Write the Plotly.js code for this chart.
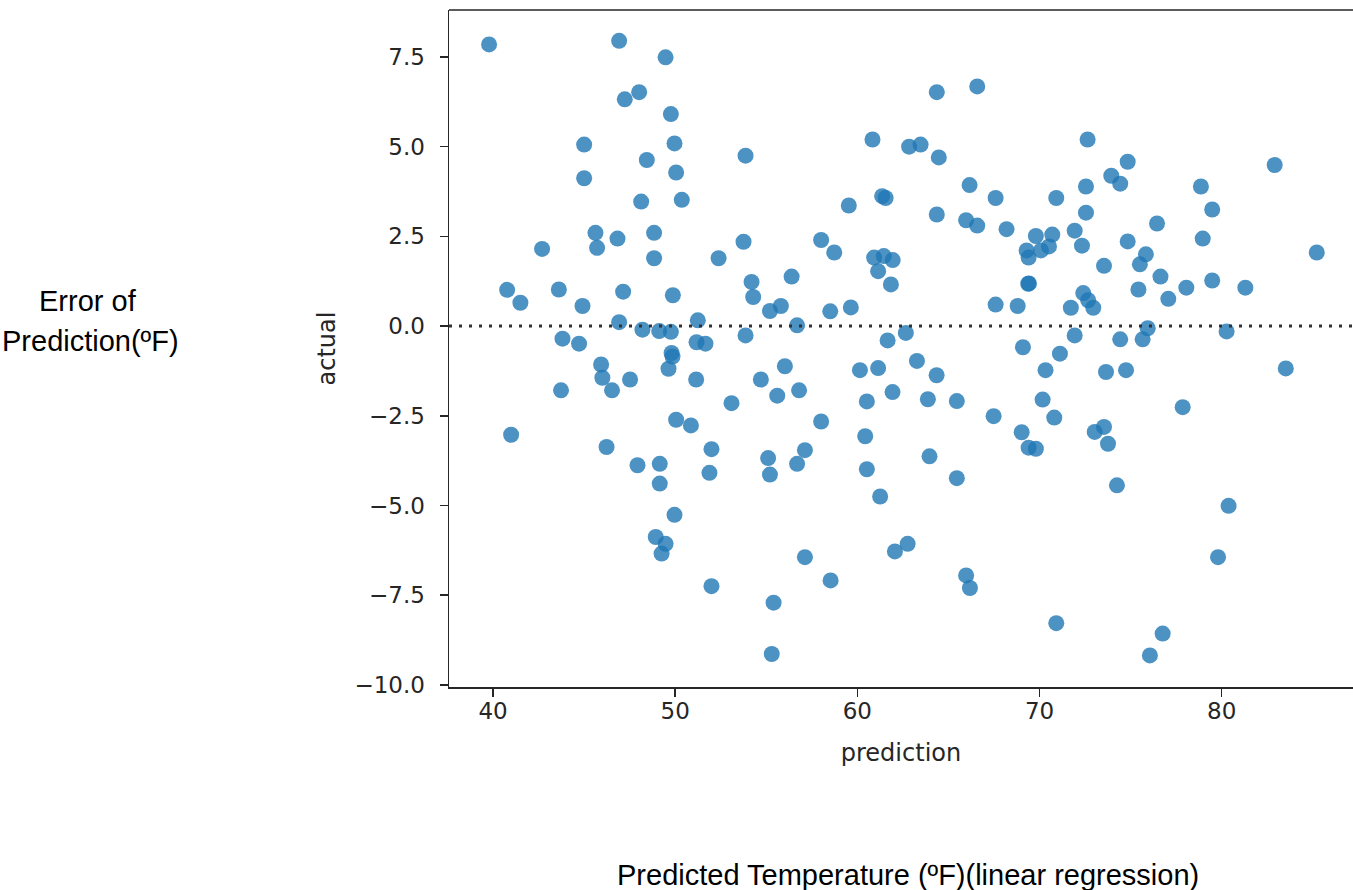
<!DOCTYPE html>
<html>
<head>
<meta charset="utf-8">
<script src="https://cdn.plot.ly/plotly-3.0.1.min.js"></script>
<style>html,body{margin:0;padding:0;background:#fff;}#chart{width:1353px;height:890px;}</style>
</head>
<body>
<div id="chart"></div>
<script>
const prediction = [39.78,46.92,49.47,48.02,47.23,49.76,45.00,49.96,48.44,45.00,50.05,53.86,48.13,50.36,45.62,46.83,48.84,42.69,45.71,48.84,52.38,53.75,40.77,41.50,43.61,44.91,47.14,49.87,54.19,54.28,46.92,51.24,43.81,44.72,48.20,49.12,49.76,51.17,51.66,53.86,49.80,49.85,49.63,45.93,46.00,46.53,43.73,47.52,51.15,53.09,50.05,50.86,40.99,46.23,51.99,47.93,49.15,49.15,51.88,49.96,48.93,49.47,49.25,51.99,64.36,66.58,60.83,62.84,63.47,64.47,66.16,67.59,61.36,61.55,59.53,64.36,65.97,66.58,68.19,58.01,58.73,60.92,61.45,61.94,61.14,61.84,56.39,55.20,55.80,58.51,59.64,56.69,67.59,68.80,69.38,69.42,69.29,69.40,69.80,70.08,70.70,70.52,62.66,61.66,69.09,72.64,82.91,74.84,73.94,74.43,72.55,70.92,72.55,78.86,79.48,78.96,76.45,71.93,72.33,74.84,75.84,75.51,73.54,85.22,76.64,75.43,77.07,78.06,79.48,81.30,72.40,72.67,72.95,71.72,75.94,80.27,71.93,74.43,75.66,71.12,70.33,73.65,74.75,83.52,70.17,70.81,77.86,73.03,73.54,73.76,69.40,69.80,74.25,80.38,79.80,70.92,76.76,76.06,69.02,56.02,54.70,55.60,56.80,58.01,55.10,55.20,57.12,56.69,60.14,61.14,63.27,64.35,60.52,61.93,63.87,65.46,67.48,60.43,63.96,60.52,65.46,61.25,57.12,58.53,62.06,62.76,65.97,66.18,55.40,55.30];
const residual = [7.85,7.95,7.49,6.52,6.32,5.91,5.06,5.09,4.63,4.12,4.28,4.75,3.47,3.52,2.60,2.44,2.60,2.15,2.18,1.89,1.89,2.35,1.01,0.65,1.02,0.56,0.96,0.86,1.23,0.81,0.11,0.16,-0.35,-0.49,-0.10,-0.14,-0.16,-0.45,-0.49,-0.26,-0.75,-0.85,-1.19,-1.07,-1.44,-1.79,-1.79,-1.49,-1.49,-2.15,-2.61,-2.77,-3.03,-3.37,-3.43,-3.88,-3.84,-4.39,-4.09,-5.26,-5.88,-6.07,-6.34,-7.25,6.52,6.68,5.20,5.00,5.06,4.70,3.93,3.57,3.62,3.57,3.36,3.11,2.95,2.80,2.70,2.40,2.05,1.91,1.95,1.84,1.53,1.16,1.38,0.42,0.56,0.41,0.52,0.02,0.60,0.56,1.18,1.19,2.11,1.91,2.51,2.11,2.55,2.22,-0.19,-0.40,-0.59,5.20,4.49,4.58,4.19,3.97,3.89,3.57,3.16,3.89,3.25,2.44,2.86,2.66,2.24,2.36,2.00,1.72,1.68,2.05,1.38,1.02,0.76,1.07,1.27,1.07,0.92,0.72,0.51,0.51,-0.06,-0.15,-0.26,-0.37,-0.37,-0.77,-1.23,-1.28,-1.23,-1.18,-2.05,-2.55,-2.26,-2.95,-2.81,-3.28,-3.39,-3.42,-4.44,-5.01,-6.44,-8.28,-8.57,-9.18,-2.96,-1.12,-1.49,-1.94,-1.79,-2.66,-3.68,-4.14,-3.46,-3.84,-1.23,-1.17,-0.97,-1.37,-2.10,-1.84,-2.04,-2.09,-2.51,-3.07,-3.63,-3.99,-4.24,-4.75,-6.44,-7.09,-6.28,-6.07,-6.95,-7.30,-7.71,-9.14];
const xTicks = [40,50,60,70,80];
const yTicks = [-10,-7.5,-5,-2.5,0,2.5,5,7.5];

const tickFont = {family:'DejaVu Sans', size:23, color:'#262626'};
const data = [{
  type:'scatter', mode:'markers', x:prediction, y:residual,
  marker:{color:'#1f77b4', size:16, opacity:0.8, line:{width:0}},
  hoverinfo:'x+y', showlegend:false
}];
const layout = {
  width:1353, height:890,
  margin:{l:449, r:0, t:10, b:203},
  paper_bgcolor:'#fff', plot_bgcolor:'#fff',
  xaxis:{range:[37.58,87.21], tickvals:xTicks, ticks:'outside', ticklen:8, tickwidth:1.5, tickcolor:'#262626',
    showline:true, linecolor:'#262626', linewidth:1.5, showgrid:false, zeroline:false,
    tickfont:tickFont, ticklabelstandoff:-5,
    title:{text:'prediction', font:{family:'DejaVu Sans', size:24, color:'#262626'}, standoff:21}},
  yaxis:{range:[-10.06,8.81], tickvals:yTicks, tickformat:'.1f', ticks:'outside', ticklen:8, tickwidth:1.5, tickcolor:'#262626',
    showline:true, linecolor:'#262626', linewidth:1.5, showgrid:false, zeroline:false,
    tickfont:tickFont, ticklabelstandoff:10,
    title:{text:'actual', font:{family:'DejaVu Sans', size:24, color:'#262626'}, standoff:12}},
  shapes:[
    {type:'line', xref:'paper', yref:'y', x0:0, x1:1, y0:0, y1:0, line:{color:'#333333', width:3, dash:'3px,7px'}},
    {type:'line', xref:'paper', yref:'paper', x0:0, x1:1, y0:1, y1:1, line:{color:'#262626', width:1.5}}
  ],
  annotations:[
    {xref:'paper', yref:'paper', x:(88-449)/904, y:(687-301)/677, text:'Error of', showarrow:false, xanchor:'center', yanchor:'middle', font:{family:'Liberation Sans, Arial', size:29, color:'#000'}},
    {xref:'paper', yref:'paper', x:(90-449)/904, y:(687-341)/677, text:'Prediction(ºF)', showarrow:false, xanchor:'center', yanchor:'middle', font:{family:'Liberation Sans, Arial', size:29, color:'#000'}},
    {xref:'paper', yref:'paper', x:(908-449)/904, y:(687-875)/677, text:'Predicted Temperature (ºF)(linear regression)', showarrow:false, xanchor:'center', yanchor:'middle', font:{family:'Liberation Sans, Arial', size:29, color:'#000'}}
  ]
};
Plotly.newPlot('chart', data, layout, {displayModeBar:false, staticPlot:true});
</script>
</body>
</html>
